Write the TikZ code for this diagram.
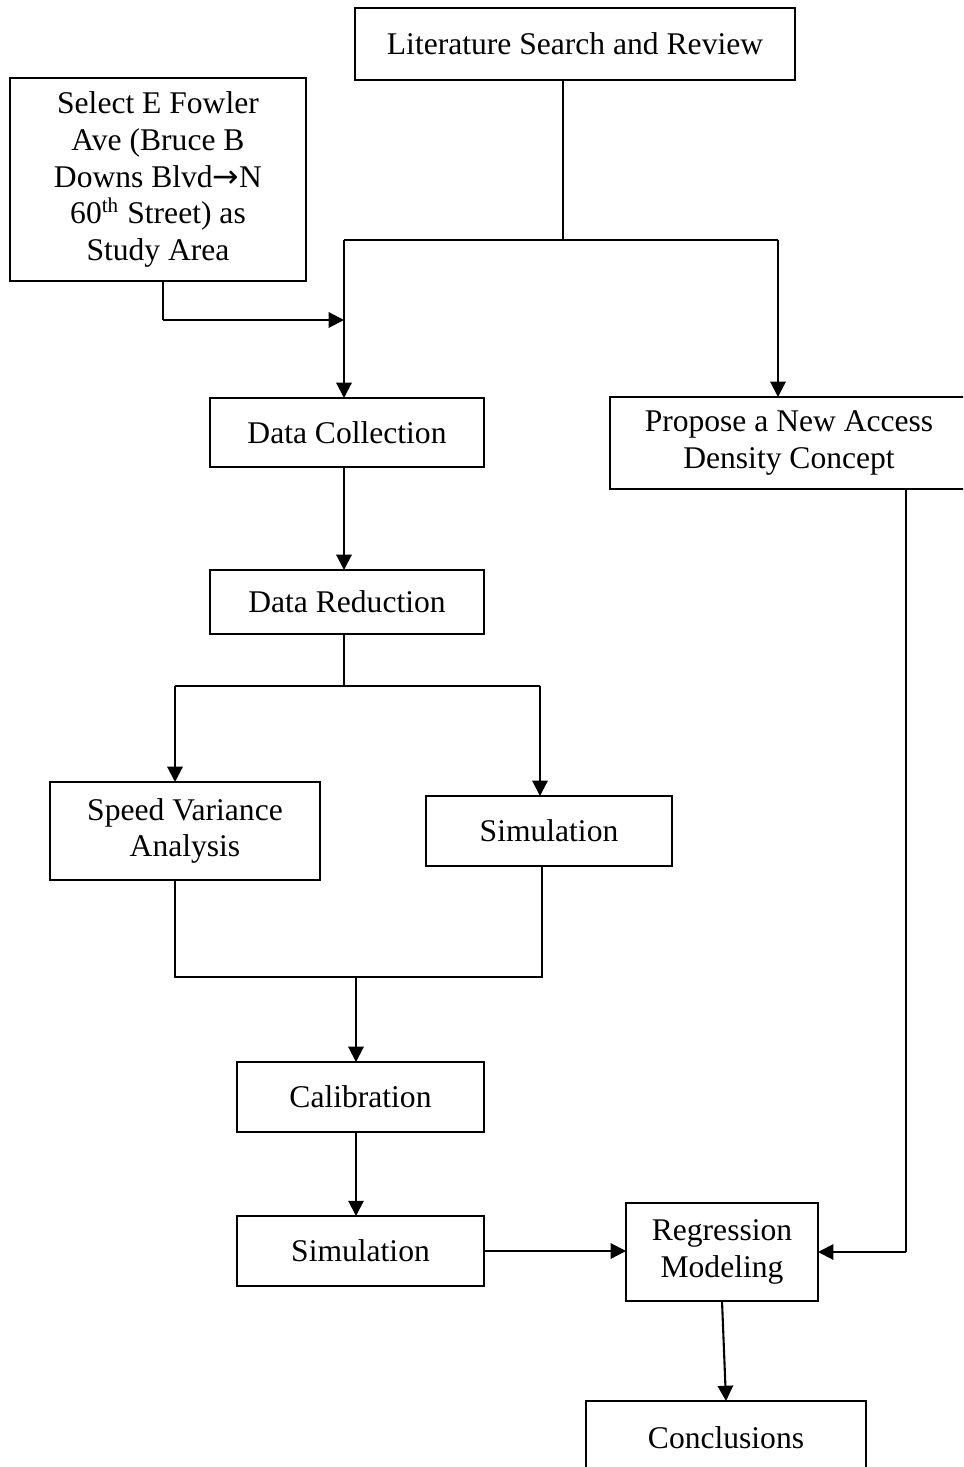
\documentclass[tikz,border=0pt]{standalone}
\usepackage{fontspec}
\setmainfont{Liberation Serif}
\newfontfamily\arrowfont{DejaVu Sans}
\usetikzlibrary{arrows.meta}
\tikzset{
  box/.style={draw, line width=0.8pt, inner sep=0pt, outer sep=0pt, align=center, font=\fontsize{12}{14}\selectfont},
  conn/.style={line width=0.8pt},
  arr/.style={conn, -{Triangle[length=5.8pt,width=5.8pt]}}
}
\newcommand\mybox[6]{\node[box,minimum width={(#4-#2)*0.38pt},minimum height={(#5-#3)*0.38pt}] (#1) at ({(#2+#4)/2},{(#3+#5)/2}) {#6};}
\begin{document}
\begin{tikzpicture}[x=0.38pt,y=-0.38pt]
\useasboundingbox (0,0) rectangle (963,1467);
\clip (0,0) rectangle (963,1467);
\mybox{lit}{355}{8}{795}{80}{Literature Search and Review}
\mybox{sel}{10}{78}{306}{281}{Select E Fowler\\Ave (Bruce B\\Downs Blvd{\arrowfont →}N\\60\textsuperscript{th} Street) as\\Study Area}
\mybox{dc}{210}{398}{484}{467}{Data Collection}
\mybox{prop}{610}{397}{968}{489}{Propose a New Access\\Density Concept}
\mybox{dr}{210}{570}{484}{634}{Data Reduction}
\mybox{sva}{50}{782}{320}{880}{Speed Variance\\Analysis}
\mybox{simA}{426}{796}{672}{866}{Simulation}
\mybox{cal}{237}{1062}{484}{1132}{Calibration}
\mybox{simB}{237}{1216}{484}{1286}{Simulation}
\mybox{reg}{626}{1203}{818}{1301}{Regression\\Modeling}
\mybox{conc}{586}{1401}{866}{1475}{Conclusions}
% junction coordinates
\coordinate (j1) at (563,240);
\coordinate (jl) at (344,240);
\coordinate (jr) at (778,240);
\coordinate (js) at (163,320);
\coordinate (jsm) at (344,320);
\coordinate (j2) at (344,686);
\coordinate (j2l) at (175,686);
\coordinate (j2r) at (540,686);
\coordinate (j3l) at (175,977);
\coordinate (j3r) at (542,977);
\coordinate (j3) at (356,977);
\coordinate (jp) at (906,1252);
% connectors
\draw[conn] (j1 |- lit.south) -- (j1);
\draw[conn] (jl) -- (jr);
\draw[arr] (jl) -- (jl |- dc.north);
\draw[arr] (jr) -- (jr |- prop.north);
\draw[conn] (js |- sel.south) -- (js);
\draw[arr] (js) -- (jsm);
\draw[arr] (jl |- dc.south) -- (jl |- dr.north);
\draw[conn] (j2 |- dr.south) -- (j2);
\draw[conn] (j2l) -- (j2r);
\draw[arr] (j2l) -- (j2l |- sva.north);
\draw[arr] (j2r) -- (j2r |- simA.north);
\draw[conn] (j3l |- sva.south) -- (j3l) -- (j3r) -- (j3r |- simA.south);
\draw[arr] (j3) -- (j3 |- cal.north);
\draw[arr] (j3 |- cal.south) -- (j3 |- simB.north);
\draw[arr] (simB.east) -- (simB.east -| reg.west);
\draw[conn] (jp |- prop.south) -- (jp);
\draw[arr] (jp) -- (jp -| reg.east);
\draw[arr] (reg.south) -- (conc.north);
\end{tikzpicture}
\end{document}
